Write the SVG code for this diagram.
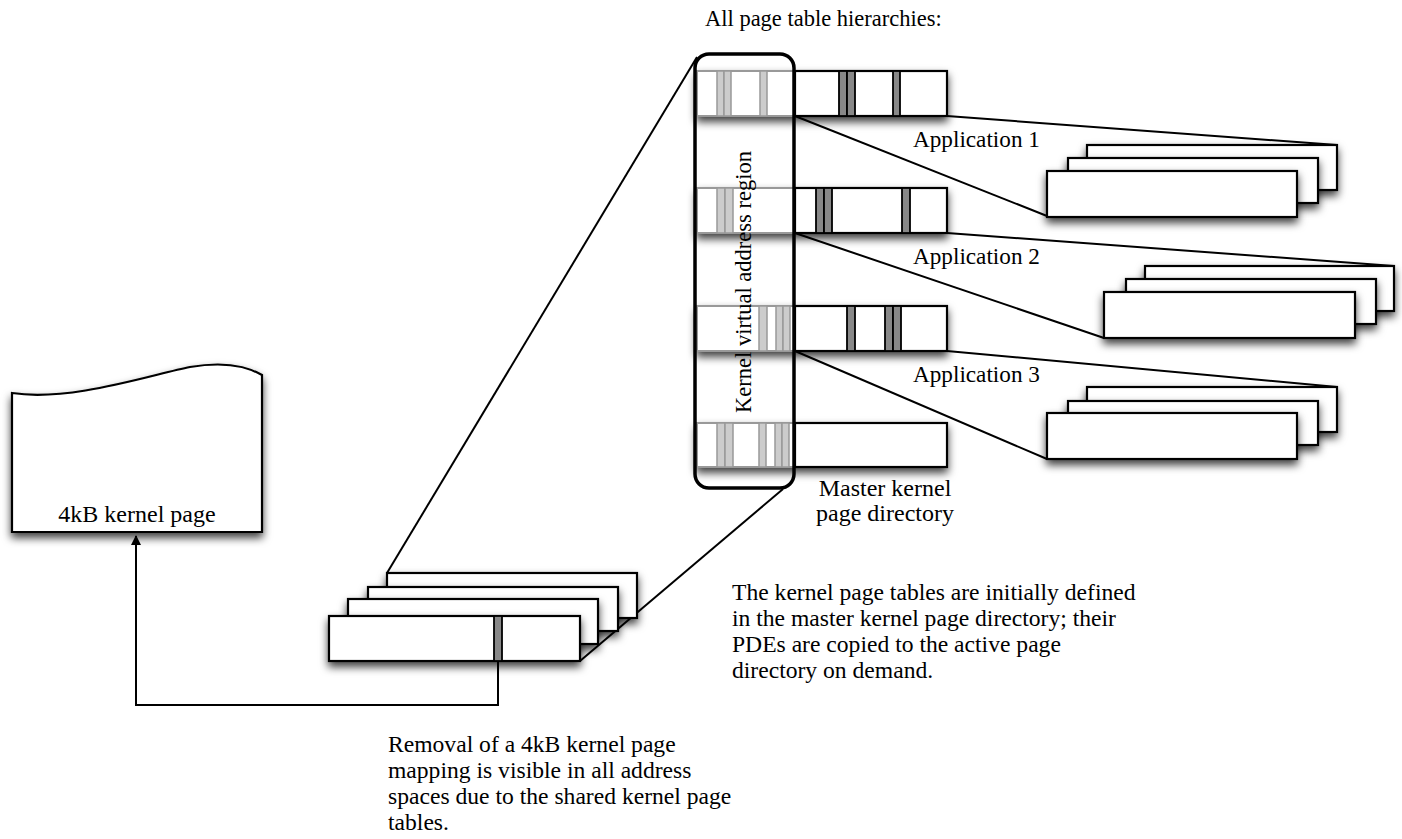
<svg xmlns="http://www.w3.org/2000/svg" width="1402" height="839" viewBox="0 0 1402 839">
<style>
text{font-family:"Liberation Serif","Times New Roman",serif;font-size:22.5px;fill:#000}
.para{font-size:23.6px}
.card{fill:#fff;stroke:#000;stroke-width:2.2}
.kpart{fill:#fff;stroke:#999;stroke-width:2}
.upart{fill:#fff;stroke:#000;stroke-width:2.2}
.lst{fill:#ccc;stroke:#999;stroke-width:1.5}
.dst{fill:#888;stroke:#000;stroke-width:1.8}
.ln{fill:none;stroke:#000;stroke-width:2}
.sh{filter:url(#shadow)}
</style>
<defs>
<filter id="shadow" x="-20%" y="-40%" width="140%" height="200%">
<feDropShadow dx="0" dy="5" stdDeviation="4" flood-color="#000" flood-opacity="0.75"/>
</filter>
<marker id="arr" markerWidth="10" markerHeight="12" refX="9" refY="5" orient="auto" markerUnits="userSpaceOnUse">
<path d="M0,0 L10,5 L0,10 Z" fill="#000"/>
</marker>
</defs>
<rect width="1402" height="839" fill="#fff"/>

<g id="connectors">
<line class="ln" x1="697" y1="57" x2="387" y2="573"/>
<line class="ln" x1="580" y1="661" x2="783" y2="489"/>
<line class="ln" x1="795" y1="116" x2="1047" y2="216"/>
<line class="ln" x1="947" y1="116" x2="1337" y2="145"/>
<line class="ln" x1="795" y1="233" x2="1104" y2="338"/>
<line class="ln" x1="947" y1="233" x2="1394" y2="266"/>
<line class="ln" x1="795" y1="351" x2="1047" y2="459"/>
<line class="ln" x1="947" y1="351" x2="1337" y2="387"/>
<polyline class="ln" points="498,662 498,705 136,705 136,536" marker-end="url(#arr)"/>
</g>

<g id="kernel-page">
<path class="card sh" d="M12,393 C70,402 150,375 190,367 C220,362 245,365 262,375 L262,532 L12,532 Z"/>
<text x="137" y="522" text-anchor="middle" style="font-size:24px">4kB kernel page</text>
</g>

<g id="kernel-page-tables">
<rect class="card sh" x="387" y="573" width="250" height="45"/>
<rect class="card sh" x="368" y="587" width="250" height="44"/>
<rect class="card sh" x="348" y="599" width="250" height="45"/>
<rect class="card sh" x="329" y="616" width="251" height="45"/>
<rect class="dst" x="494" y="616" width="8" height="45"/>
</g>

<g id="row-app1">
<g class="sh">
<rect class="kpart" x="697" y="71" width="98" height="45"/>
<rect class="upart" x="795" y="71" width="152" height="45"/>
</g>
<rect class="lst" x="717" y="71" width="7" height="45"/>
<rect class="lst" x="724" y="71" width="7" height="45"/>
<rect class="lst" x="760" y="71" width="7" height="45"/>
<rect class="dst" x="839" y="71" width="8" height="45"/>
<rect class="dst" x="847" y="71" width="8" height="45"/>
<rect class="dst" x="893" y="71" width="7" height="45"/>
</g>

<g id="row-app2">
<g class="sh">
<rect class="kpart" x="697" y="188" width="98" height="45"/>
<rect class="upart" x="795" y="188" width="152" height="45"/>
</g>
<rect class="lst" x="717" y="188" width="8" height="45"/>
<rect class="lst" x="725" y="188" width="8" height="45"/>
<rect class="dst" x="816" y="188" width="8" height="45"/>
<rect class="dst" x="824" y="188" width="8" height="45"/>
<rect class="dst" x="902" y="188" width="8" height="45"/>
</g>

<g id="row-app3">
<g class="sh">
<rect class="kpart" x="697" y="306" width="98" height="45"/>
<rect class="upart" x="795" y="306" width="152" height="45"/>
</g>
<rect class="lst" x="759" y="306" width="8" height="45"/>
<rect class="lst" x="776" y="306" width="7" height="45"/>
<rect class="lst" x="783" y="306" width="7" height="45"/>
<rect class="dst" x="847" y="306" width="8" height="45"/>
<rect class="dst" x="885" y="306" width="8" height="45"/>
<rect class="dst" x="893" y="306" width="8" height="45"/>
</g>

<g id="row-master">
<g class="sh">
<rect class="kpart" x="697" y="423" width="98" height="44"/>
<rect class="upart" x="795" y="423" width="152" height="44"/>
</g>
<rect class="lst" x="717" y="423" width="8" height="44"/>
<rect class="lst" x="725" y="423" width="8" height="44"/>
<rect class="lst" x="759" y="423" width="7" height="44"/>
<rect class="lst" x="775" y="423" width="7" height="44"/>
<rect class="lst" x="782" y="423" width="7" height="44"/>
</g>

<g id="kernel-region">
<rect x="695" y="54" width="99" height="434" rx="14" ry="14" fill="none" stroke="#000" stroke-width="3.5"/>
<text transform="translate(751,282) rotate(-90)" text-anchor="middle">Kernel virtual address region</text>
</g>

<g id="app1-tables">
<rect class="card sh" x="1087" y="145" width="250" height="45"/>
<rect class="card sh" x="1068" y="158" width="250" height="45"/>
<rect class="card sh" x="1047" y="171" width="250" height="46"/>
</g>
<g id="app2-tables">
<rect class="card sh" x="1145" y="266" width="249" height="45"/>
<rect class="card sh" x="1126" y="279" width="250" height="45"/>
<rect class="card sh" x="1104" y="292" width="251" height="46"/>
</g>
<g id="app3-tables">
<rect class="card sh" x="1087" y="387" width="250" height="45"/>
<rect class="card sh" x="1068" y="401" width="250" height="44"/>
<rect class="card sh" x="1047" y="413" width="250" height="46"/>
</g>

<g id="labels">
<text x="705" y="26">All page table hierarchies:</text>
<text x="913" y="147" style="font-size:23.2px">Application 1</text>
<text x="913" y="264" style="font-size:23.2px">Application 2</text>
<text x="913" y="382" style="font-size:23.2px">Application 3</text>
<text x="885" y="496" text-anchor="middle" style="font-size:24px">Master kernel</text>
<text x="885" y="521" text-anchor="middle" style="font-size:24px">page directory</text>
</g>

<g id="note-master">
<text class="para" x="732" y="600">The kernel page tables are initially defined</text>
<text class="para" x="732" y="626">in the master kernel page directory; their</text>
<text class="para" x="732" y="652">PDEs are copied to the active page</text>
<text class="para" x="732" y="678">directory on demand.</text>
</g>

<g id="note-removal">
<text class="para" x="388" y="752">Removal of a 4kB kernel page</text>
<text class="para" x="388" y="778">mapping is visible in all address</text>
<text class="para" x="388" y="804">spaces due to the shared kernel page</text>
<text class="para" x="388" y="830">tables.</text>
</g>
</svg>
